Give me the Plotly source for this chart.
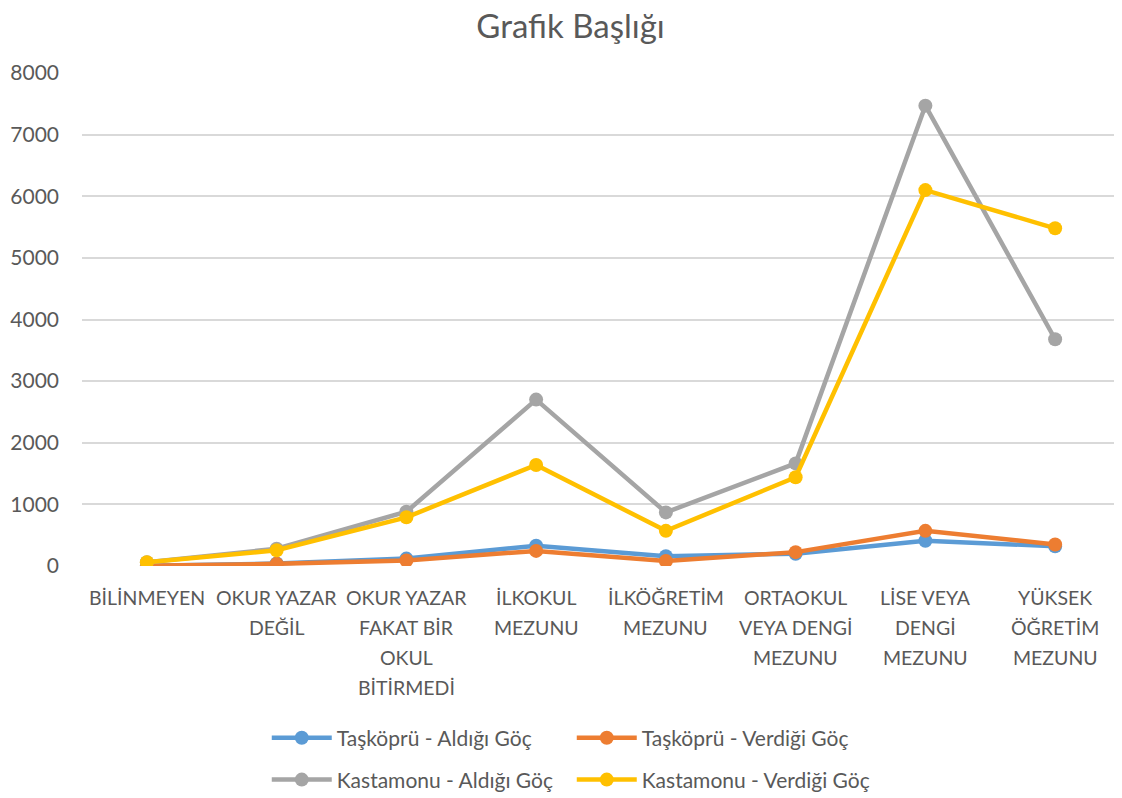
import plotly.graph_objects as go

categories = ["BİLİNMEYEN", "OKUR YAZAR DEĞİL", "OKUR YAZAR FAKAT BİR OKUL BİTİRMEDİ",
              "İLKOKUL MEZUNU", "İLKÖĞRETİM MEZUNU", "ORTAOKUL VEYA DENGİ MEZUNU",
              "LİSE VEYA DENGİ MEZUNU", "YÜKSEK ÖĞRETİM MEZUNU"]
category_lines = [["BİLİNMEYEN"], ["OKUR YAZAR", "DEĞİL"], ["OKUR YAZAR", "FAKAT BİR", "OKUL", "BİTİRMEDİ"],
                  ["İLKOKUL", "MEZUNU"], ["İLKÖĞRETİM", "MEZUNU"], ["ORTAOKUL", "VEYA DENGİ", "MEZUNU"],
                  ["LİSE VEYA", "DENGİ", "MEZUNU"], ["YÜKSEK", "ÖĞRETİM", "MEZUNU"]]

taskopru_aldigi = [5, 40, 120, 330, 160, 200, 410, 320]
taskopru_verdigi = [5, 35, 90, 245, 80, 225, 570, 350]
kastamonu_aldigi = [60, 280, 880, 2700, 870, 1665, 7470, 3680]
kastamonu_verdigi = [60, 255, 790, 1640, 570, 1440, 6100, 5480]

series = [
    ("Taşköprü - Aldığı Göç", taskopru_aldigi, "#5B9BD5", "legend"),
    ("Taşköprü - Verdiği Göç", taskopru_verdigi, "#ED7D31", "legend"),
    ("Kastamonu - Aldığı Göç", kastamonu_aldigi, "#A5A5A5", "legend2"),
    ("Kastamonu - Verdiği Göç", kastamonu_verdigi, "#FFC000", "legend2"),
]

FONT = "Lato, 'Open Sans', sans-serif"
TXT = "#595959"

fig = go.Figure()
for name, vals, col, lg in series:
    fig.add_trace(go.Scatter(
        x=categories, y=vals, name=name, mode="lines+markers",
        line=dict(color=col, width=4.5),
        marker=dict(color=col, size=14),
        legend=lg,
    ))

for cat, lines in zip(categories, category_lines):
    for i, ln in enumerate(lines):
        fig.add_annotation(x=cat, xref="x", y=0, yref="paper", text=ln,
                           showarrow=False, yanchor="middle", yshift=-31 - 30 * i,
                           font=dict(family=FONT, size=19.5, color=TXT))

fig.update_layout(
    width=1114, height=790,
    margin=dict(l=74, r=2, t=65, b=232, autoexpand=False),
    paper_bgcolor="white", plot_bgcolor="white",
    title=dict(text="Grafik Başlığı", x=0.505, xanchor="center", xref="container",
               y=0.991, yanchor="top", yref="container",
               font=dict(family=FONT, size=33, color=TXT)),
    font=dict(family=FONT, size=19, color=TXT),
    xaxis=dict(showticklabels=False, showgrid=False, zeroline=False, showline=False,
               range=[-0.5, 7.5], automargin=False),
    yaxis=dict(range=[0, 8000], dtick=1000, showgrid=True, gridcolor="#D9D9D9", gridwidth=1.5,
               zeroline=False, showline=False, tickfont=dict(family=FONT, size=21, color=TXT),
               ticklabelstandoff=22, automargin=False),
    legend=dict(orientation="h", x=0.178, xanchor="left", y=-0.349, yanchor="middle",
                entrywidth=230, entrywidthmode="pixels", itemwidth=60,
                font=dict(family=FONT, size=21, color=TXT), bgcolor="rgba(0,0,0,0)"),
    legend2=dict(orientation="h", x=0.178, xanchor="left", y=-0.434, yanchor="middle",
                 entrywidth=230, entrywidthmode="pixels", itemwidth=60,
                 font=dict(family=FONT, size=21, color=TXT), bgcolor="rgba(0,0,0,0)"),
)

fig.write_html("out.html")
